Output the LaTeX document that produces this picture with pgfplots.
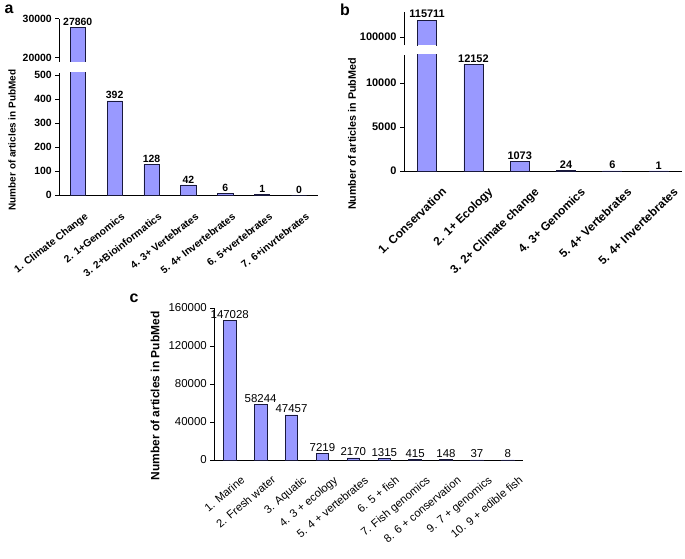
\documentclass[border=0pt]{standalone}
\usepackage{pgfplots}
\pgfplotsset{compat=1.18}
\usepackage{fontspec}
\setmainfont{Liberation Sans}

\definecolor{barfill}{RGB}{153,153,255}
\definecolor{baredge}{RGB}{25,25,60}

\newcommand{\fs}[1]{\fontsize{#1}{#1}\selectfont}

\pgfplotsset{
  pane/.style={
    scale only axis, anchor=south west,
    axis x line*=bottom, axis y line*=left,
    ybar, bar width=0.41,
    tick align=outside,
    major tick length=4bp, minor tick length=4bp,
    xtick style={draw=none},
    axis line style={line width=0.9pt}, every tick/.style={line width=0.9pt, black},
    /pgf/number format/fixed, /pgf/number format/precision=0,
    /pgf/number format/1000 sep={},
    /pgf/number format/assume math mode=true,
    scaled y ticks=false,
    nodes near coords style={black, inner sep=1.5pt},
  },
  brk/.style={axis x line=none, xtick=\empty, minor xtick={}},
  bars/.style={fill=barfill, draw=baredge, line width=0.8pt, bar shift=0pt,
    nodes near coords, point meta=explicit symbolic},
  edge/.style={baredge, line width=0.8pt, sharp plot, mark=none},
}

\begin{document}
\begin{tikzpicture}
\path[use as bounding box] (0,0) rectangle (685bp,-559bp);

% ---------------- panel a ----------------
\begin{axis}[pane, brk, at={(59.3bp,-61.7bp)}, width=258.3bp, height=42.9bp,
  xmin=0.5, xmax=7.5, ymin=19000, ymax=30000, ytick={20000,30000},
  ticklabel style={font=\bfseries\fs{10.5}},
  nodes near coords style={font=\bfseries\fs{10.5}}]
\addplot[bars, draw=none] table[meta=l] {
x y l
1 27860 27860
};
\addplot[edge] coordinates {(0.795,18000) (0.795,27860) (1.205,27860) (1.205,18000)};
\end{axis}

\begin{axis}[pane, at={(59.3bp,-195bp)}, width=258.3bp, height=122.4bp,
  xmin=0.5, xmax=7.5, ymin=0, ymax=510, ytick={0,100,...,500},
  xtick={1,...,7}, minor xtick={0.5,1.5,...,7.5},
  xticklabels={1. Climate Change, 2. 1+Genomics, 3. 2+Bioinformatics, 4. 3+ Vertebrates,
    5. 4+ Invertebrates, 6. 5+vertebrates, 7. 6+invrtebrates},
  yticklabel style={font=\bfseries\fs{10.5}},
  xticklabel style={font=\bfseries\fs{10.3}, rotate=38, anchor=north east, inner sep=1pt,
    xshift=-2bp, yshift=-13bp},
  nodes near coords style={font=\bfseries\fs{10.5}}]
\addplot[bars] table[meta=l] {
x y l
1 27860 {}
2 392 392
3 128 128
4 42 42
5 6 6
6 1 1
7 0 0
};
\end{axis}

% ---------------- panel b ----------------
\begin{axis}[pane, brk, at={(404bp,-45bp)}, width=277.8bp, height=33bp,
  xmin=0.5, xmax=6.5, ymin=92600, ymax=123100, ytick={100000},
  ticklabel style={font=\bfseries\fs{11}},
  nodes near coords style={font=\bfseries\fs{11}}]
\addplot[bars, draw=none] table[meta=l] {
x y l
1 115711 115711
};
\addplot[edge] coordinates {(0.795,90000) (0.795,115711) (1.205,115711) (1.205,90000)};
\end{axis}

\begin{axis}[pane, at={(404bp,-171bp)}, width=277.8bp, height=116.2bp,
  xmin=0.5, xmax=6.5, ymin=0, ymax=13200, ytick={0,5000,10000},
  xtick={1,...,6}, minor xtick={0.5,1.5,...,6.5},
  xticklabels={1. Conservation, 2. 1+ Ecology, 3. 2+ Climate change, 4. 3+ Genomics,
    5. 4+ Vertebrates, 5. 4+ Invertebrates},
  yticklabel style={font=\bfseries\fs{11}},
  xticklabel style={font=\bfseries\fs{11.8}, rotate=44, anchor=north east, inner sep=1pt,
    xshift=3bp, yshift=-17bp},
  nodes near coords style={font=\bfseries\fs{11}}]
\addplot[bars] table[meta=l] {
x y l
1 115711 {}
2 12152 12152
3 1073 1073
4 24 24
5 6 6
6 1 1
};
\end{axis}

% ---------------- panel c ----------------
\begin{axis}[pane, at={(214.3bp,-460bp)}, width=309bp, height=152bp,
  xmin=0.5, xmax=10.5, ymin=0, ymax=160000, ytick={0,40000,...,160000},
  xtick={1,...,10}, minor xtick={0.5,1.5,...,10.5},
  xticklabels={1. Marine, 2. Fresh water, 3. Aquatic, 4. 3 + ecology, 5. 4 + vertebrates,
    6. 5 + fish, 7. Fish genomics, 8. 6 + conservation, 9. 7 + genomics, 10. 9 + edible fish},
  yticklabel style={font=\fs{11.5}},
  xticklabel style={font=\fs{11.3}, rotate=40, anchor=north east, inner sep=1pt,
    xshift=2bp, yshift=-14bp},
  nodes near coords style={font=\fs{11.5}}]
\addplot[bars] table[meta=l] {
x y l
1 147028 147028
2 58244 58244
3 47457 47457
4 7219 7219
5 2170 2170
6 1315 1315
7 415 415
8 148 148
9 37 37
10 8 8
};
\end{axis}

% axis titles and panel letters
\node[rotate=90, font=\bfseries\fs{10}] at (12bp,-140bp) {Number of articles in PubMed};
\node[rotate=90, font=\bfseries\fs{10.8}] at (352bp,-134bp) {Number of articles in PubMed};
\node[rotate=90, font=\bfseries\fs{12}] at (155bp,-396bp) {Number of articles in PubMed};
\node[font=\bfseries\fs{16}] at (9bp,-9bp) {a};
\node[font=\bfseries\fs{16}] at (345bp,-10bp) {b};
\node[font=\bfseries\fs{16}] at (134bp,-298bp) {c};
\end{tikzpicture}
\end{document}
